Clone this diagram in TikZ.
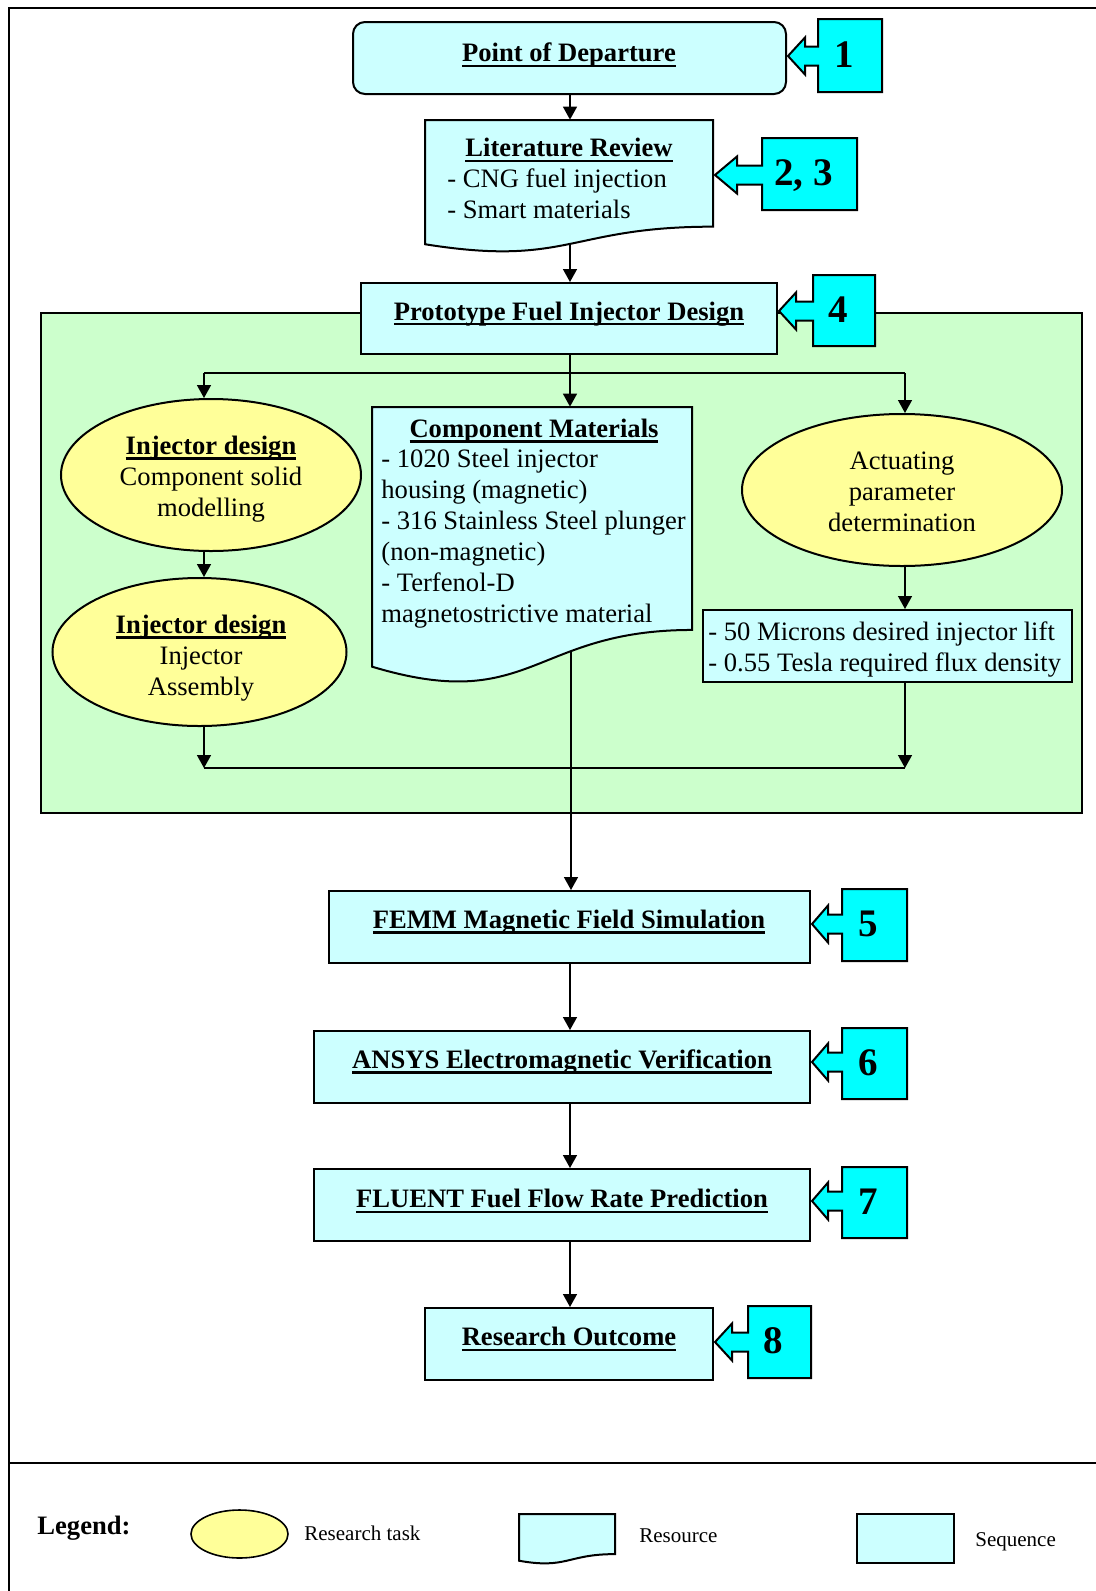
\documentclass[tikz,border=0pt]{standalone}
\usepackage{fontspec}
\setmainfont{Liberation Serif}
\usetikzlibrary{arrows.meta,shapes.geometric,fit,calc}
\pgfdeclarelayer{bg}
\pgfdeclarelayer{cn}
\pgfsetlayers{bg,cn,main}
\definecolor{lcyan}{HTML}{CCFFFF}
\definecolor{lyellow}{HTML}{FFFF99}
\definecolor{lgreen}{HTML}{CCFFCC}
\definecolor{ccyan}{HTML}{00FFFF}
\newcommand\bodyfont{\fontsize{13.3}{15.5}\selectfont}
\newcommand\titlefont{\fontsize{13.3}{15.5}\selectfont\bfseries}
\newcommand\numfont{\fontsize{19.5}{22}\selectfont\bfseries}
\newcommand\legfont{\fontsize{10.5}{12}\selectfont}
\newsavebox\ulbox
\newcommand\myul[1]{\sbox\ulbox{#1}\rlap{\rule[-2.6pt]{\wd\ulbox}{1.1pt}}\usebox\ulbox}
\tikzset{
  seqbox/.style={draw, line width=1pt, fill=lcyan, inner sep=0pt},
  docfill/.style={draw, line width=1pt, fill=lcyan},
  task/.style={ellipse, draw, line width=1pt, fill=lyellow, inner sep=0pt},
  tasktext/.style={font=\bodyfont, align=center, inner sep=0pt},
  ttl/.style={font=\titlefont, inner sep=0pt},
  body/.style={font=\bodyfont, align=left, inner sep=0pt, anchor=west},
  conn/.style={line width=0.75pt},
  arr/.style={conn, -{Triangle[width=7pt,length=6.5pt]}},
  callbox/.style={draw, line width=1pt, fill=ccyan, line join=miter},
  num/.style={font=\numfont, inner sep=0pt, text depth=0pt},
  frameline/.style={line width=1pt},
  leg/.style={font=\legfont, inner sep=0pt, anchor=west},
}
% name, x0, y0, x1, h
\newcommand\docshape[5]{%
  \path[docfill] (#2,#3) -- (#4,#3) -- (#4,{#3+0.802*#5})
     .. controls ({(#2+#4)/2},{#3+0.802*#5}) and ({(#2+#4)/2},{#3+1.1075*#5}) .. (#2,{#3+0.934*#5}) -- cycle;
  \node[fit={(#2,#3) (#4,{#3+#5})}, inner sep=0pt] (#1) {};
}
% sx0, sy0, sx1, sy1, tipx, tipy, headlen, text
\newcommand\callout[8]{%
  \path[callbox] (#1,#2) -- (#3,#2) -- (#3,#4) -- (#1,#4) -- (#1,{#6+9.5}) -- ({#5+#7},{#6+9.5})
    -- ({#5+#7},{#6+18.5}) -- (#5,#6) -- ({#5+#7},{#6-18.5}) -- ({#5+#7},{#6-9.5}) -- (#1,{#6-9.5}) -- cycle;
  \node[num] at ({(#1+#3)/2-6},{(#2+#4)/2-1}) {#8};
}
\begin{document}
\begin{tikzpicture}[x=0.5pt,y=-0.5pt]
\useasboundingbox (0,0) rectangle (1096,1591);
% frame
\draw[frameline] (1096,8) -- (9,8) -- (9,1591);
\draw[frameline] (9,1463) -- (1096,1463);
% group background
\begin{pgfonlayer}{bg}
\node[draw, line width=1pt, fill=lgreen, inner sep=0pt, fit={(41,313) (1082,813)}] (grp) {};
\end{pgfonlayer}

% main nodes
\node[seqbox, rounded corners=6pt, fit={(353,22) (786,94)}] (pod) {};
\node[ttl] (podt) at (569,55) {\myul{Point of Departure}};
\callout{818}{19}{882}{92}{788}{56}{17}{1}

\docshape{lit}{425}{120}{713}{133}
\node[ttl] (litt) at (569,150) {\myul{Literature Review}};
\node[body] (litb) at (447,194) {- CNG fuel injection\\- Smart materials};
\callout{762}{138}{857}{210}{715}{175}{22}{2, 3}

\node[seqbox, fit={(361,283) (777,354)}] (proto) {};
\node[ttl] (protot) at (569,314) {\myul{Prototype Fuel Injector Design}};
\callout{813}{275}{875}{346}{779}{311}{17}{4}

\node[task, minimum width=150pt, minimum height=76pt] (e1) at (211,475) {};
\node[tasktext] (e1t) at ($(e1.center)+(0,4)$)
  {\textbf{\myul{Injector design}}\\Component solid\\modelling};
\node[task, minimum width=147pt, minimum height=74pt] (e2) at (199.5,652) {};
\node[tasktext] (e2t) at ($(e2.center)+(1.5,6)$)
  {\textbf{\myul{Injector design}}\\Injector\\Assembly};

\docshape{cm}{372}{407}{692}{278}
\node[ttl] (cmt) at (534,431) {\myul{Component Materials}};
\node[body] (cmb) at (381,539) {- 1020 Steel injector\\housing (magnetic)\\- 316 Stainless Steel plunger\\(non-magnetic)\\- Terfenol-D\\magnetostrictive material};

\node[task, minimum width=160pt, minimum height=76pt] (act) at (902,490) {};
\node[tasktext] (actt) at ($(act.center)+(0,2)$) {Actuating\\parameter\\determination};
\node[seqbox, fit={(703,610) (1072,682)}] (mic) {};
\node[body] (micb) at (708,649) {- 50 Microns desired injector lift\\- 0.55 Tesla required flux density};

\node[seqbox, fit={(329,891) (810,963)}] (femm) {};
\node[ttl] (femmt) at (569,922) {\myul{FEMM Magnetic Field Simulation}};
\callout{842}{889}{907}{961}{812}{924}{16}{5}

\node[seqbox, fit={(314,1031) (810,1103)}] (ansys) {};
\node[ttl] (ansyst) at (562,1062) {\myul{ANSYS Electromagnetic Verification}};
\callout{842}{1028}{907}{1099}{812}{1062}{16}{6}

\node[seqbox, fit={(314,1169) (810,1241)}] (fluent) {};
\node[ttl] (fluentt) at (562,1201) {\myul{FLUENT Fuel Flow Rate Prediction}};
\callout{842}{1167}{907}{1238}{812}{1201}{16}{7}

\node[seqbox, fit={(425,1308) (713,1380)}] (ro) {};
\node[ttl] (rot) at (569,1339) {\myul{Research Outcome}};
\callout{748}{1306}{811}{1378}{715}{1342}{17}{8}

% legend
\node[ttl, anchor=west] (legt) at (37,1528) {Legend:};
\node[task, line width=0.8pt, minimum width=48.5pt, minimum height=24pt] (lgtask) at (239.5,1534) {};
\node[leg] (lgtaskt) at (304,1533) {Research task};
\docshape{lgres}{519}{1514}{615}{50}
\node[leg] (lgrest) at (639,1536) {Resource};
\node[seqbox, fit={(857,1514) (954,1563)}] (lgseq) {};
\node[leg] (lgseqt) at (975,1542) {Sequence};

% connectors
\coordinate (xm) at (570,0);
\coordinate (xl) at (204,0);
\coordinate (xr) at (905,0);
\coordinate (split) at (570,373);
\coordinate (merge) at (570,768);
\begin{pgfonlayer}{cn}
\draw[arr] (pod.south -| xm) -- (lit.north -| xm);
\draw[arr] (lit.center -| xm) -- (proto.north -| xm);
\draw[conn] (proto.south -| xm) -- (split);
\draw[conn] (split -| xl) -- (split -| xr);
\draw[arr] (split -| xl) -- (e1.north -| xl);
\draw[arr] (split) -- (split |- cm.north);
\draw[arr] (split -| xr) -- (act.north -| xr);
\draw[arr] (act.south -| xr) -- (mic.north -| xr);
\draw[arr] (e1.south -| xl) -- (e2.north -| xl);
\draw[arr] (e2.south -| xl) -- (merge -| xl);
\draw[arr] (mic.south -| xr) -- (merge -| xr);
\draw[line width=1.1pt] (merge -| xl) -- (merge -| xr);
\draw[arr] (cm.center -| 571,0) -- (femm.north -| 571,0);
\draw[arr] (femm.south -| xm) -- (ansys.north -| xm);
\draw[arr] (ansys.south -| xm) -- (fluent.north -| xm);
\draw[arr] (fluent.south -| xm) -- (ro.north -| xm);
\end{pgfonlayer}
\end{tikzpicture}
\end{document}
